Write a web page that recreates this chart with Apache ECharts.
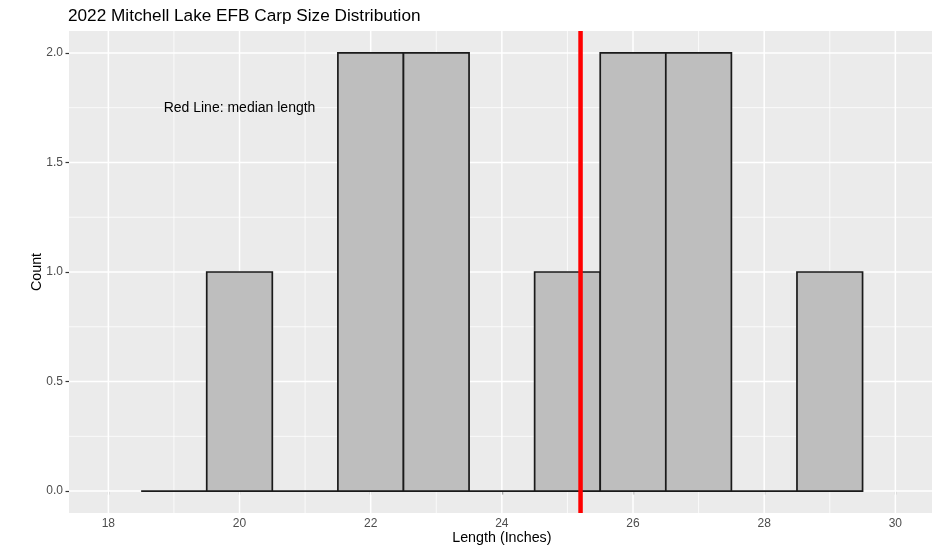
<!DOCTYPE html>
<html><head><meta charset="utf-8">
<script src="https://cdn.jsdelivr.net/npm/echarts@6/dist/echarts.min.js"></script>
<style>html,body{margin:0;padding:0;background:#fff}#c{width:932px;height:546px}</style>
</head><body><div id="c"></div>
<script>
const binCenters = [19, 20, 21, 22, 23, 24, 25, 26, 27, 28, 29];
const counts = [0, 1, 0, 2, 2, 0, 1, 2, 2, 0, 1];
const medianLength = [25.2];
const xTicks = [18, 20, 22, 24, 26, 28, 30];
const xMinor = [19, 21, 23, 25, 27, 29];
const yTicks = [0, 0.5, 1, 1.5, 2];
const yMinor = [0.25, 0.75, 1.25, 1.75];
const titleText = '2022 Mitchell Lake EFB Carp Size Distribution';
const noteText = 'Red Line: median length';
const xLabel = 'Length (Inches)';
const yLabel = 'Count';

const X_MIN = 17.4, X_MAX = 30.6, Y_MIN = -0.1, Y_MAX = 2.1;
const FONT = '"Liberation Sans", Arial, sans-serif';

const chart = echarts.init(document.getElementById('c'), null, {renderer: 'canvas'});

const gridData = [];
xTicks.forEach(v => gridData.push([v, 0, 1]));
xMinor.forEach(v => gridData.push([v, 0, 0]));
yTicks.forEach(v => gridData.push([v, 1, 1]));
yMinor.forEach(v => gridData.push([v, 1, 0]));

chart.setOption({
  animation: false,
  backgroundColor: '#ffffff',
  title: {
    text: titleText, left: 63, top: 3,
    textStyle: {fontFamily: FONT, fontSize: 17.2, fontWeight: 'normal', color: '#000'}
  },
  grid: {left: 69, top: 31, width: 865.7, height: 482, backgroundColor: '#EBEBEB', show: true, borderWidth: 0,
    containLabel: false, outerBoundsMode: 'none'},
  xAxis: {
    type: 'value', min: X_MIN, max: X_MAX,
    splitLine: {show: false}, axisLine: {show: false},
    axisTick: {show: true, length: 3.5, customValues: xTicks, lineStyle: {color: '#333', width: 1.2}},
    axisLabel: {customValues: xTicks, color: '#4D4D4D', fontSize: 12, fontFamily: FONT, margin: 5},
    name: xLabel, nameLocation: 'middle', nameGap: 18.5, nameMoveOverlap: false,
    nameTextStyle: {color: '#000', fontSize: 14.3, fontFamily: FONT}
  },
  yAxis: {
    type: 'value', min: Y_MIN, max: Y_MAX,
    splitLine: {show: false}, axisLine: {show: false},
    axisTick: {show: true, length: 3.5, customValues: yTicks, lineStyle: {color: '#333', width: 1.2}},
    axisLabel: {customValues: yTicks, color: '#4D4D4D', fontSize: 12, fontFamily: FONT, margin: 6,
      formatter: v => Number(v).toFixed(1)},
    name: yLabel, nameLocation: 'middle', nameGap: 25, nameMoveOverlap: false,
    nameTextStyle: {color: '#000', fontSize: 14.3, fontFamily: FONT}
  },
  series: [
    {
      type: 'custom', z: 1, silent: true,
      data: gridData,
      renderItem: (params, api) => {
        const v = api.value(0), dir = api.value(1), major = api.value(2);
        let p0, p1;
        if (dir === 0) { p0 = api.coord([v, Y_MIN]); p1 = api.coord([v, Y_MAX]); }
        else { p0 = api.coord([X_MIN, v]); p1 = api.coord([X_MAX, v]); }
        return {type: 'line', shape: {x1: p0[0], y1: p0[1], x2: p1[0], y2: p1[1]},
          style: {stroke: '#ffffff', lineWidth: major ? 1.5 : 0.75}};
      }
    },
    {
      type: 'custom', z: 2, silent: true,
      data: binCenters.map((c, i) => [c, counts[i]]),
      renderItem: (params, api) => {
        const x = api.value(0), c = api.value(1);
        const p0 = api.coord([x - 0.5, 0]), p1 = api.coord([x + 0.5, c]);
        return {type: 'rect', shape: {x: p0[0], y: p1[1], width: p1[0] - p0[0], height: p0[1] - p1[1]},
          style: {fill: '#BEBEBE', stroke: '#1a1a1a', lineWidth: 1.7}};
      }
    },
    {
      type: 'custom', z: 3, silent: true,
      data: medianLength.map(m => [m]),
      renderItem: (params, api) => {
        const m = api.value(0);
        const p0 = api.coord([m, Y_MIN]), p1 = api.coord([m, Y_MAX]);
        return {type: 'line', shape: {x1: p0[0], y1: p0[1], x2: p1[0], y2: p1[1]},
          style: {stroke: '#FF0000', lineWidth: 4.5}};
      }
    },
    {
      type: 'custom', z: 4, silent: true,
      data: [[20, 1.75]],
      renderItem: (params, api) => {
        const p = api.coord([api.value(0), api.value(1)]);
        return {type: 'text', x: p[0], y: p[1],
          style: {text: noteText, align: 'center', verticalAlign: 'middle', fill: '#000',
            font: '14px ' + FONT}};
      }
    }
  ]
});
</script>
</body></html>
